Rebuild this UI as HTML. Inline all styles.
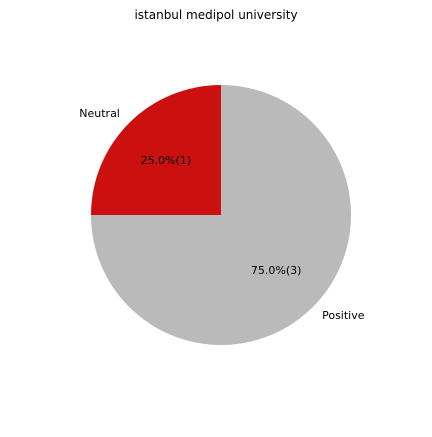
<!DOCTYPE html>
<html><head><meta charset="utf-8"><style>
body{margin:0;background:#fff;}
svg text{font-family:"DejaVu Sans","Liberation Sans",sans-serif;font-size:11px;fill:#000;}
</style></head><body>
<svg id="chart" width="432" height="432" viewBox="0 0 432 432">
<text x="216" y="19" text-anchor="middle" style="font-size:12px">istanbul medipol university</text>
<g id="slices"></g>
</svg>
<script>
const labels = ["Neutral", "Positive"];
const values = [1, 3];
const colors = ["#cc1010", "#bababa"];
const cx = 221, cy = 215, r = 130;
const total = values.reduce((a, b) => a + b, 0);
const g = document.getElementById('slices');
const ns = 'http://www.w3.org/2000/svg';
let start = 90;
values.forEach((v, i) => {
  const sweep = v / total * 360;
  const end = start + sweep;
  const a0 = start * Math.PI / 180, a1 = end * Math.PI / 180;
  const x0 = cx + r * Math.cos(a0), y0 = cy - r * Math.sin(a0);
  const x1 = cx + r * Math.cos(a1), y1 = cy - r * Math.sin(a1);
  const large = sweep > 180 ? 1 : 0;
  const p = document.createElementNS(ns, 'path');
  p.setAttribute('d', `M${cx},${cy} L${x0},${y0} A${r},${r} 0 ${large} 0 ${x1},${y1} Z`);
  p.setAttribute('fill', colors[i]);
  
  
  g.appendChild(p);
  const mid = (start + end) / 2 * Math.PI / 180;
  const lx = cx + 1.1 * r * Math.cos(mid), ly = cy - 1.1 * r * Math.sin(mid);
  const t = document.createElementNS(ns, 'text');
  t.setAttribute('x', lx); t.setAttribute('y', ly + 3);
  t.setAttribute('text-anchor', Math.cos(mid) < 0 ? 'end' : 'start');
  t.textContent = labels[i];
  
  
  g.appendChild(t);
  const px = cx + 0.6 * r * Math.cos(mid), py = cy - 0.6 * r * Math.sin(mid);
  const pt = document.createElementNS(ns, 'text');
  pt.setAttribute('x', px); pt.setAttribute('y', py + 4);
  pt.setAttribute('text-anchor', 'middle');
  pt.textContent = (v / total * 100).toFixed(1) + '%(' + v + ')';
  
  
  g.appendChild(pt);
  start = end;
});
</script>
</body></html>
